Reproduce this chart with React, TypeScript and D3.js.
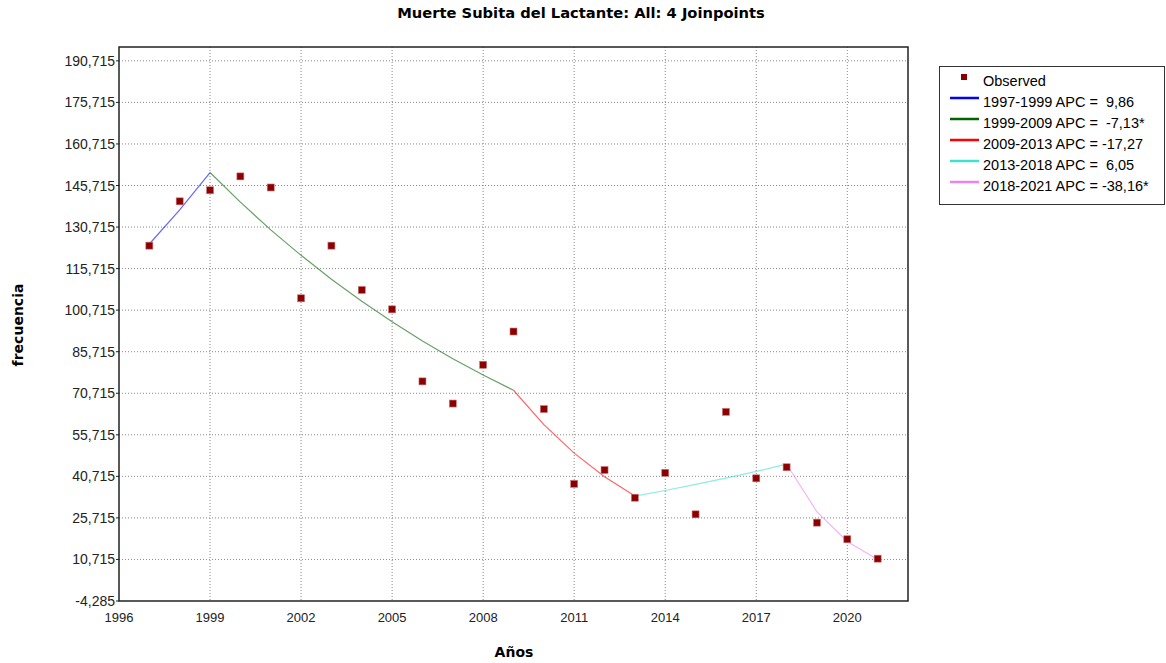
import React from "react";
import * as d3 from "d3";

const title = "Muerte Subita del Lactante: All: 4 Joinpoints";
const xLabel = "Años";
const yLabel = "frecuencia";

const years = [1997, 1998, 1999, 2000, 2001, 2002, 2003, 2004, 2005, 2006, 2007, 2008, 2009, 2010, 2011, 2012, 2013, 2014, 2015, 2016, 2017, 2018, 2019, 2020, 2021];
const observed = [124, 140, 144, 149, 145, 105, 124, 108, 101, 75, 67, 81, 93, 65, 38, 43, 33, 42, 27, 64, 40, 44, 24, 18, 11];

const xTicks = [1996, 1999, 2002, 2005, 2008, 2011, 2014, 2017, 2020];
const yTicks = [-4.285, 10.715, 25.715, 40.715, 55.715, 70.715, 85.715, 100.715, 115.715, 130.715, 145.715, 160.715, 175.715, 190.715];

const seg1Years = [1997, 1998, 1999];
const seg1Fit = [124.6, 136.9, 150.4];
const seg2Years = [1999, 2000, 2001, 2002, 2003, 2004, 2005, 2006, 2007, 2008, 2009];
const seg2Fit = [150.4, 139.7, 129.7, 120.5, 111.9, 103.9, 96.5, 89.6, 83.2, 77.3, 71.8];
const seg3Years = [2009, 2010, 2011, 2012, 2013];
const seg3Fit = [71.8, 59.4, 49.1, 40.6, 33.6];
const seg4Years = [2013, 2014, 2015, 2016, 2017, 2018];
const seg4Fit = [33.6, 35.6, 37.8, 40.1, 42.5, 45.1];
const seg5Years = [2018, 2019, 2020, 2021];
const seg5Fit = [45.1, 27.9, 17.2, 10.7];

const segLabels = [
  "1997-1999 APC =  9,86",
  "1999-2009 APC =  -7,13*",
  "2009-2013 APC = -17,27",
  "2013-2018 APC =  6,05",
  "2018-2021 APC = -38,16*",
];
const segColors = ["#0000FF", "#006400", "#FF0000", "#40E0D0", "#EE82EE"];

const segments = [
  { years: seg1Years, fit: seg1Fit },
  { years: seg2Years, fit: seg2Fit },
  { years: seg3Years, fit: seg3Fit },
  { years: seg4Years, fit: seg4Fit },
  { years: seg5Years, fit: seg5Fit },
];

const W = 1166;
const H = 663;
const plot = { left: 119, right: 908, top: 47, bottom: 601 };

export default function App() {
  const x = d3.scaleLinear().domain([1996, 2022]).range([plot.left, plot.right]);
  const y = d3.scaleLinear().domain([-4.285, 195.715]).range([plot.bottom, plot.top]);
  const line = d3
    .line<[number, number]>()
    .x((d) => x(d[0]))
    .y((d) => y(d[1]));
  const fmt = (v: number) => v.toFixed(3).replace(".", ",");
  const font = "'Liberation Sans', Arial, sans-serif";
  const bold = "'DejaVu Sans', Verdana, sans-serif";
  const ms = 7;

  return (
    <svg
      width={W}
      height={H}
      style={{ position: "absolute", left: 0, top: 0, background: "#fff" }}
    >
      <rect x={0} y={0} width={W} height={H} fill="#fff" />
      <text x={581} y={18} textAnchor="middle" fontFamily={bold} fontWeight="bold" fontSize={14.7} fill="#000">
        {title}
      </text>

      {/* grid */}
      {xTicks.slice(1).map((t) => (
        <line key={"gx" + t} x1={x(t)} x2={x(t)} y1={plot.top} y2={plot.bottom} stroke="#888" strokeWidth={1} strokeDasharray="1,2" />
      ))}
      {yTicks.slice(1).map((t) => (
        <line key={"gy" + t} x1={plot.left} x2={plot.right} y1={y(t)} y2={y(t)} stroke="#888" strokeWidth={1} strokeDasharray="1,2" />
      ))}

      {/* frame */}
      <rect x={plot.left} y={plot.top} width={plot.right - plot.left} height={plot.bottom - plot.top} fill="none" stroke="#222" strokeWidth={1.5} />

      {/* y tick labels */}
      {yTicks.map((t) => (
        <g key={"ty" + t}>
          <line x1={plot.left - 3} x2={plot.left} y1={y(t)} y2={y(t)} stroke="#222" />
          <text x={115} y={y(t) + 5} textAnchor="end" fontFamily={font} fontSize={14} fill="#222">
            {fmt(t)}
          </text>
        </g>
      ))}
      {/* x tick labels */}
      {xTicks.map((t) => (
        <text key={"tx" + t} x={x(t)} y={622} textAnchor="middle" fontFamily={font} fontSize={13} fill="#222">
          {t}
        </text>
      ))}

      <text x={514} y={657} textAnchor="middle" fontFamily={bold} fontWeight="bold" fontSize={14} fill="#000">
        {xLabel}
      </text>
      <text transform={`translate(23,325) rotate(-90)`} textAnchor="middle" fontFamily={bold} fontWeight="bold" fontSize={14} fill="#000">
        {yLabel}
      </text>

      {/* fitted segments */}
      {segments.map((s, i) => (
        <path
          key={"seg" + i}
          d={line(s.years.map((yr, j) => [yr, s.fit[j]] as [number, number])) || ""}
          fill="none"
          stroke={segColors[i]}
          strokeWidth={1.2}
          strokeOpacity={0.6}
        />
      ))}

      {/* observed */}
      {years.map((yr, i) => (
        <rect
          key={"o" + yr}
          x={x(yr) - ms / 2}
          y={y(observed[i]) - ms / 2}
          width={ms}
          height={ms}
          fill="#8B0000"
          stroke="#c77"
          strokeWidth={0.6}
        />
      ))}

      {/* legend */}
      <rect x={939.5} y={66.5} width={225} height={138} fill="#fff" stroke="#333" strokeWidth={1} />
      <rect x={961} y={74} width={6} height={6} fill="#8B0000" />
      <text x={983} y={86} fontFamily={font} fontSize={14.5} fill="#000">
        Observed
      </text>
      {segLabels.map((lab, i) => {
        const yy = 102 + i * 21;
        return (
          <g key={"lg" + i}>
            <line x1={950} x2={979} y1={yy - 4} y2={yy - 4} stroke={segColors[i]} strokeWidth={2.5} />
            <text x={983} y={yy + 5} fontFamily={font} fontSize={14.5} fill="#000" style={{ whiteSpace: "pre" }}>
              {lab}
            </text>
          </g>
        );
      })}
    </svg>
  );
}
